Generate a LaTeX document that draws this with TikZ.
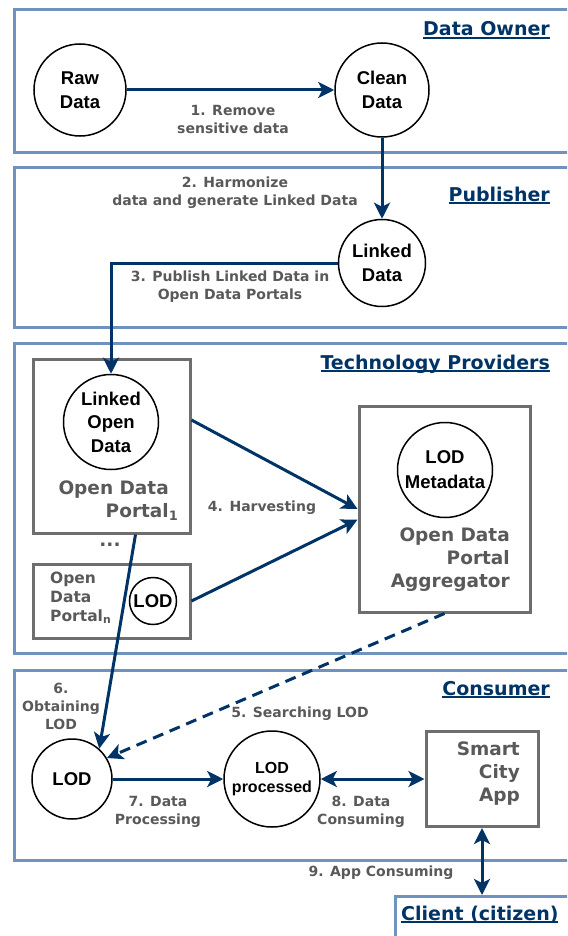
\documentclass[tikz,border=0pt]{standalone}
\usepackage{fontspec}
\setmainfont{DejaVu Sans}
\newfontfamily\arialfont{Liberation Sans}
\usetikzlibrary{arrows.meta}
\definecolor{lanecol}{RGB}{112,146,190}
\definecolor{arrowcol}{RGB}{0,51,102}
\definecolor{graytext}{RGB}{89,89,89}
\definecolor{graybox}{RGB}{110,110,110}
\newcommand{\lanetitle}[1]{\sbox0{#1}\rlap{\color{arrowcol}\vrule width\wd0 height -1.2pt depth 3pt}\usebox0}

\begin{document}
\begin{tikzpicture}[x=1pt,y=-1pt,>={Stealth[length=16pt,width=16pt,inset=4pt]}]
\tikzstyle{lane}=[draw=lanecol,line width=3pt]
\tikzstyle{title}=[text=arrowcol,font=\fontsize{19}{22}\selectfont\bfseries,anchor=base east,inner sep=0]
\tikzstyle{data}=[draw,circle,line width=1.5pt,inner sep=0,align=center,font=\arialfont\fontsize{18.5}{24}\selectfont\bfseries]
\tikzstyle{portal}=[draw=graybox,line width=3pt,rectangle,inner sep=0]
\tikzstyle{boxtext}=[text=graytext,font=\fontsize{18.5}{22.5}\selectfont\bfseries,inner sep=0]
\tikzstyle{flowtext}=[text=graytext,font=\fontsize{14}{18}\selectfont\bfseries,align=center,inner sep=0]
\tikzstyle{flow}=[->,draw=arrowcol,line width=3pt]
\useasboundingbox (0,0) rectangle (567,936);
\clip (0,0) rectangle (567,936);

\draw[lane] (14,10) rectangle (620,153);
\draw[lane] (14,168) rectangle (620,327);
\draw[lane] (14,343) rectangle (620,653);
\draw[lane] (14,670) rectangle (620,860);
\node[lane,minimum width=240pt,minimum height=80pt,anchor=north west,inner sep=0] (client) at (394,895) {};

\node[title] (ownertitle) at (550,36) {\lanetitle{Data Owner}};
\node[title] (pubtitle) at (550,201) {\lanetitle{Publisher}};
\node[title] (techtitle) at (550,369) {\lanetitle{Technology Providers}};
\node[title] (constitle) at (550,695) {\lanetitle{Consumer}};
\node[title,anchor=base west] (clienttitle) at (401,920) {\lanetitle{Client (citizen)}};

\node[data,minimum size=92pt] (raw) at (80,90) {Raw\\Data};
\node[data,minimum size=94pt] (clean) at (382,90) {Clean\\Data};
\node[data,minimum size=87pt] (linked) at (382,263) {Linked\\Data};

\node[portal,minimum width=157pt,minimum height=174pt] (portal1) at (111.5,446) {};
\node[data,minimum size=95pt,font=\arialfont\fontsize{18.5}{23.5}\selectfont\bfseries] (lod1) at (111,422) {Linked\\Open\\Data};
\node[boxtext,align=right,anchor=east] (portal1text) at (169,501) {Open Data\\Portal\rlap{\textsubscript{1}}};
\node[boxtext] (dots) at (110,545) {...};
\node[portal,minimum width=157pt,minimum height=74pt] (portaln) at (111.5,601) {};
\node[boxtext,font=\fontsize{15.5}{19}\selectfont\bfseries,align=left,anchor=west] (portalntext) at (50,598) {Open\\Data\\Portal\textsubscript{n}};
\node[data,minimum size=47pt] (lodn) at (153,601) {LOD};

\node[portal,minimum width=171pt,minimum height=206pt] (aggregator) at (444.5,509) {};
\node[data,minimum size=95pt,font=\arialfont\fontsize{18.5}{25}\selectfont\bfseries] (lodmeta) at (445,470) {LOD\\Metadata};
\node[boxtext,align=right,anchor=east,font=\fontsize{18.5}{23}\selectfont\bfseries] (aggtext) at (510,560) {Open Data\\Portal\hspace*{7pt}\\Aggregator};

\node[data,minimum size=80pt] (lod2) at (72,779) {LOD};
\node[data,minimum size=96pt,font=\arialfont\fontsize{16}{19}\selectfont\bfseries] (proc) at (272,779) {LOD\\processed};
\node[portal,minimum width=112pt,minimum height=95pt] (smart) at (482,779) {};
\node[boxtext,align=right,anchor=east,font=\fontsize{18.5}{23}\selectfont\bfseries] (smarttext) at (520,774) {Smart\\City\\App};

\draw[flow] (raw.east) -- (clean.west);
\draw[flow] (clean) -- (linked);
\draw[flow] (linked.west) -| (lod1.north);
\draw[flow] (portal1.18) -- (aggregator.west);
\draw[flow] (portaln.east) -- (aggregator.187);
\draw[flow,dash pattern=on 11pt off 7pt] (aggregator.south) -- (lod2.31);
\draw[flow] ([xshift=24pt]portal1.south) -- (lod2.48);
\draw[flow] (lod2) -- (proc);
\draw[flow,<->] (proc) -- (smart);
\draw[flow,<->] (smart.south) -- (smart.south |- client.north);

\node[flowtext] (remove) at (233,119) {1. Remove\\sensitive data};
\node[flowtext] (harmonize) at (235,193) {2. Harmonize\\data and generate Linked Data};
\node[flowtext] (publish) at (230,287) {3. Publish Linked Data in\\Open Data Portals};
\node[flowtext] (harvest) at (262,508) {4. Harvesting};
\node[flowtext] (search) at (300,714) {5. Searching LOD};
\node[flowtext] (obtain) at (61,706) {6.\\Obtaining\\LOD};
\node[flowtext] (process) at (158,812) {7. Data\\Processing};
\node[flowtext] (consume) at (361,812) {8. Data\\Consuming};
\node[flowtext] (appuse) at (381,873) {9. App Consuming};
\end{tikzpicture}
\end{document}
